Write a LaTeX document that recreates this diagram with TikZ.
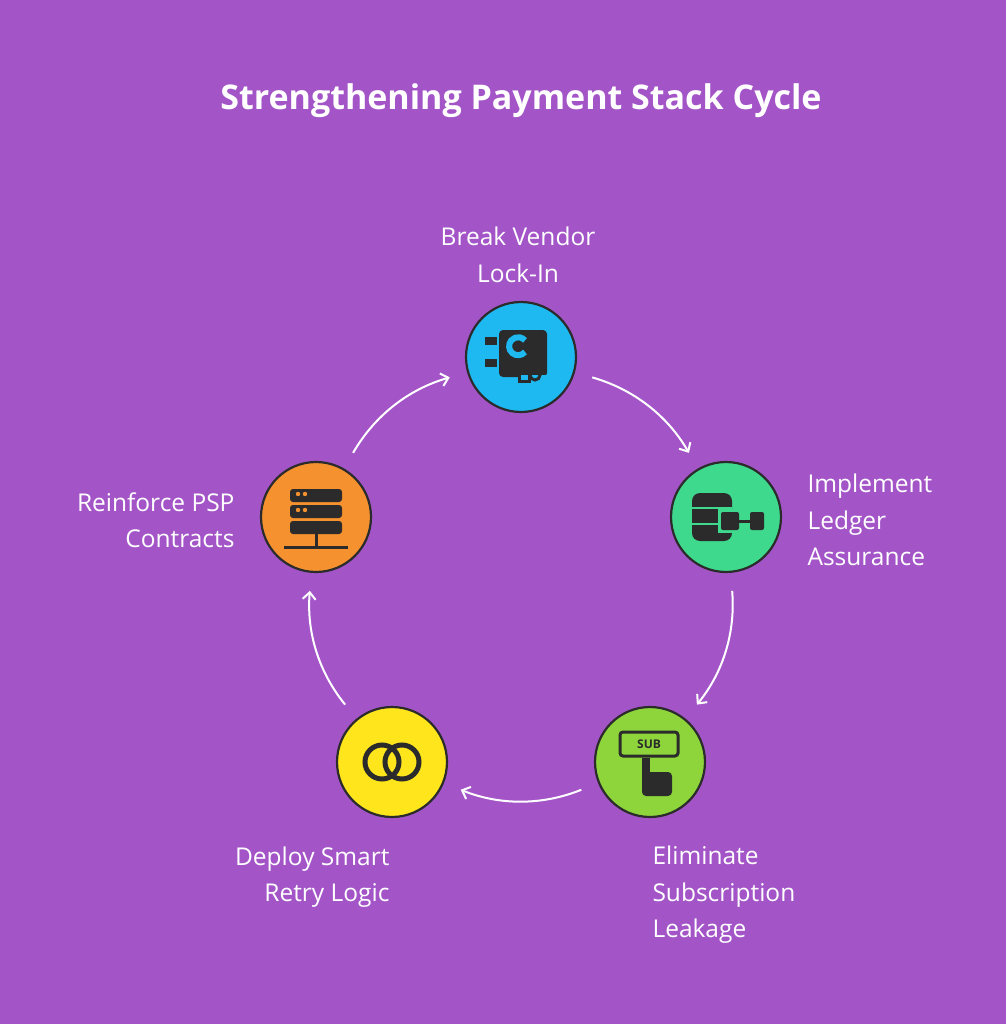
\documentclass[tikz,border=0pt]{standalone}
\usepackage{fontspec}
\setmainfont{Open Sans}
\usetikzlibrary{arrows.meta}
\definecolor{bgpurple}{HTML}{A355C8}
\definecolor{ink}{HTML}{2B2B2B}
\definecolor{cyanfill}{HTML}{1FB9F2}
\definecolor{greenfill}{HTML}{3ED98D}
\definecolor{limefill}{HTML}{8DD53B}
\definecolor{yellowfill}{HTML}{FFE51C}
\definecolor{orangefill}{HTML}{F5912F}
\begin{document}
\begin{tikzpicture}[x=1pt,y=-1pt,
    stage/.style={circle, draw=ink, line width=2.2pt, minimum size=110pt, inner sep=0pt},
    label/.style={text=white, font=\fontsize{24.5}{36.5}\selectfont, align=center},
    arrow/.style={-{Straight Barb[length=7pt,width=13pt]}, draw=white, line width=2pt, shorten <=18pt, shorten >=18pt}
]
    \fill[bgpurple] (0,0) rectangle (1006,1024);
    \useasboundingbox (0,0) rectangle (1006,1024);

    \node[text=white, font=\fontsize{34}{40}\selectfont\bfseries] (title) at (521,101) {Strengthening Payment Stack Cycle};

    % Stages
    \node[stage, fill=cyanfill] (vendor) at (521,357) {};
    \node[stage, fill=greenfill] (ledger) at (726,517) {};
    \node[stage, fill=limefill] (subs) at (650,762) {};
    \node[stage, fill=yellowfill] (retry) at (392,762) {};
    \node[stage, fill=orangefill] (psp) at (316,517) {};

    % Labels
    \node[label] (vendorlbl) at (518,255) {Break Vendor\\Lock-In};
    \node[label, anchor=west, align=left] (ledgerlbl) at (804,520) {Implement\\Ledger\\Assurance};
    \node[label, anchor=west, align=left] (subslbl) at (649,895) {Eliminate\\Subscription\\Leakage};
    \node[label, anchor=east, align=right] (retrylbl) at (393,877) {Deploy Smart\\Retry Logic};
    \node[label, anchor=east, align=right] (psplbl) at (238,520) {Reinforce PSP\\Contracts};

    % Cycle arrows
    \draw[arrow] (vendor) to[bend left=22] (ledger);
    \draw[arrow] (ledger) to[bend left=22] (subs);
    \draw[arrow] (subs) to[bend left=22] (retry);
    \draw[arrow] (retry) to[bend left=22] (psp);
    \draw[arrow] (psp) to[bend left=22] (vendor);

    % Icons
    \begin{scope}[shift={(vendor.center)}]
        \fill[ink, rounded corners=4pt] (-22,-27) rectangle (26,20);
        \fill[cyanfill] (-3,18) rectangle (30,34);
        \draw[cyanfill, line width=6pt] (4,-5) arc (40:320:9);
        \fill[ink] (-36,-20) rectangle (-24,-12);
        \fill[ink] (-36,2) rectangle (-24,10);
        \draw[ink, line width=3pt] (14,18) circle (5);
        \draw[ink, line width=3pt] (-2,14) rectangle (8,24);
    \end{scope}
    \begin{scope}[shift={(ledger.center)}]
        \fill[ink, rounded corners=8pt] (-34,-24) rectangle (6,24);
        \draw[greenfill, line width=2.5pt] (-34,-9) -- (6,-9) (-34,7) -- (6,7);
        \fill[greenfill] (-8,-8) rectangle (16,16);
        \fill[ink, rounded corners=2pt] (-5,-5) rectangle (13,13);
        \draw[ink, line width=3pt] (13,4) -- (24,4);
        \fill[ink, rounded corners=2pt] (24,-5) rectangle (38,13);
    \end{scope}
    \begin{scope}[shift={(subs.center)}]
        \draw[ink, line width=3pt, rounded corners=3pt] (-30,-30) rectangle (28,-6);
        \node[text=ink, font=\bfseries\fontsize{12}{12}\selectfont] (subtxt) at (-1,-18) {SUB};
        \fill[ink] (-8,-4) rectangle (0,22);
        \fill[ink, rounded corners=4pt] (-8,10) rectangle (22,34);
    \end{scope}
    \begin{scope}[shift={(retry.center)}]
        \draw[ink, line width=5pt] (-10,0) circle (17);
        \draw[ink, line width=5pt] (10,0) circle (17);
    \end{scope}
    \begin{scope}[shift={(psp.center)}]
        \foreach \yy in {-28,-12} {
            \fill[ink, rounded corners=3pt] (-26,\yy) rectangle (26,\yy+13);
            \fill[orangefill] (-18,\yy+5) circle (2.2);
            \fill[orangefill] (-11,\yy+5) circle (2.2);
        }
        \fill[ink, rounded corners=3pt] (-26,4) rectangle (26,17);
        \draw[ink, line width=3pt] (0,17) -- (0,30) (-32,30) -- (32,30);
    \end{scope}
\end{tikzpicture}
\end{document}
